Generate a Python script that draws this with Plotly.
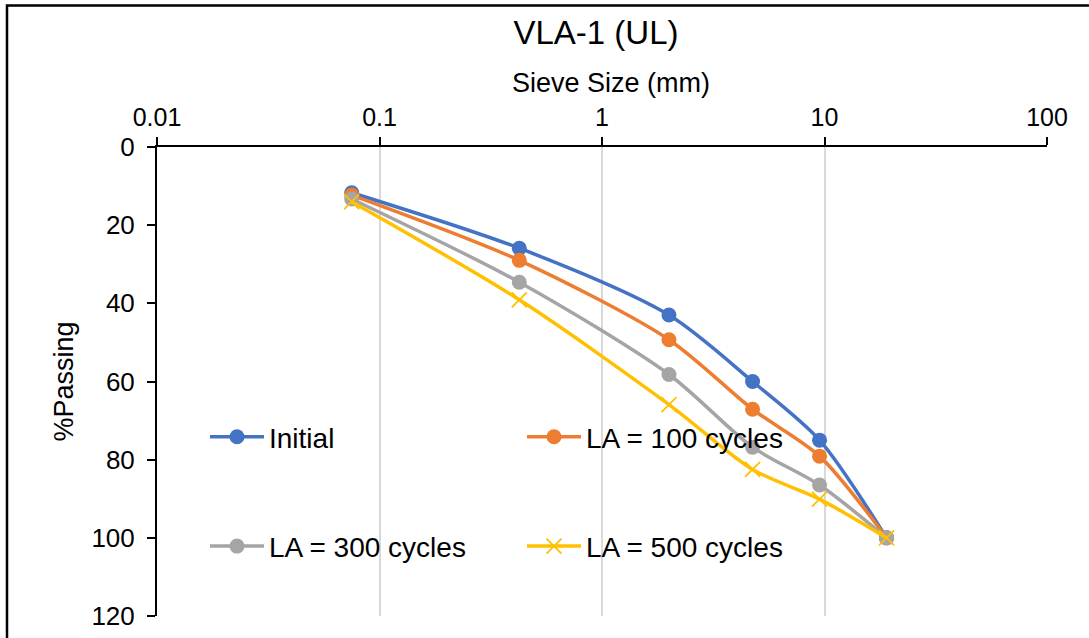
import plotly.graph_objects as go

# Sieve sizes (mm) and percent passing for each abrasion state
sieve_mm = [0.075, 0.425, 2.0, 4.75, 9.5, 19.0]
initial = [11.7, 25.9, 43.0, 60.0, 75.0, 100.0]
la_100 = [12.3, 29.0, 49.3, 67.1, 79.1, 100.0]
la_300 = [13.3, 34.6, 58.2, 76.8, 86.5, 100.0]
la_500 = [14.0, 39.1, 65.9, 82.5, 90.1, 100.0]

series_names = ["Initial", "LA = 100 cycles", "LA = 300 cycles", "LA = 500 cycles"]
x_ticks = [0.01, 0.1, 1, 10, 100]
x_tick_labels = ["0.01", "0.1", "1", "10", "100"]
y_ticks = [0, 20, 40, 60, 80, 100, 120]

W, H = 1089, 638
L, R, T, B = 157, 42, 147, 22
FONT = "Arial, Liberation Sans, sans-serif"

colors = ["#4472C4", "#ED7D31", "#A5A5A5", "#FFC000"]
values = [initial, la_100, la_300, la_500]
legends = ["legend", "legend2", "legend", "legend2"]

fig = go.Figure()
for i, (name, ys) in enumerate(zip(series_names, values)):
    if i < 3:
        marker = dict(symbol="circle", size=15, color=colors[i])
    else:
        marker = dict(symbol="x-thin", size=15, color=colors[i],
                      line=dict(color=colors[i], width=1.8))
    fig.add_trace(go.Scatter(
        x=sieve_mm, y=ys, name=name, mode="lines+markers",
        line=dict(color=colors[i], width=3.5, shape="spline", smoothing=0.8),
        marker=marker, legend=legends[i], legendgroup=name,
    ))


def px_to_paper_x(px):
    return (px - L) / (W - L - R)


def px_to_paper_y(py):
    return (H - B - py) / (H - T - B)


legend_common = dict(
    font=dict(family=FONT, size=28, color="#000000"),
    bgcolor="rgba(0,0,0,0)", itemwidth=54, tracegroupgap=70,
    orientation="v", xanchor="left", yanchor="top",
)

fig.update_layout(
    width=W, height=H,
    margin=dict(l=L, r=R, t=T, b=B, autoexpand=False),
    paper_bgcolor="white", plot_bgcolor="white",
    font=dict(family=FONT, size=24, color="#000000"),
    title=dict(text="VLA-1 (UL)", x=596 / W,
               xanchor="center", y=1 - 32 / H, yanchor="middle",
               font=dict(family=FONT, size=33, color="#000000")),
    xaxis=dict(
        type="log", side="top", range=[-2, 2],
        tickvals=x_ticks, ticktext=x_tick_labels,
        ticks="outside", ticklen=8, tickwidth=1.5, tickcolor="#000000",
        showline=True, linecolor="#000000", linewidth=2,
        showgrid=True, gridcolor="#D9D9D9", gridwidth=1.5,
        zeroline=False,
        tickfont=dict(family=FONT, size=25),
        ticklabelstandoff=1,
    ),
    yaxis=dict(
        range=[120, 0], tickvals=y_ticks,
        ticks="outside", ticklen=8, tickwidth=1.5, tickcolor="#000000",
        showline=True, linecolor="#000000", linewidth=2,
        showgrid=False, zeroline=False,
        tickfont=dict(family=FONT, size=26),
        ticklabelstandoff=7,
        title=dict(text="%Passing", standoff=10,
                   font=dict(family=FONT, size=27)),
    ),
    annotations=[dict(
        text="Sieve Size (mm)", xref="paper", yref="paper",
        x=px_to_paper_x(611), y=px_to_paper_y(83),
        xanchor="center", yanchor="middle", showarrow=False,
        font=dict(family=FONT, size=27, color="#000000"),
    )],
    legend=dict(x=px_to_paper_x(205), y=px_to_paper_y(412), **legend_common),
    legend2=dict(x=px_to_paper_x(522), y=px_to_paper_y(412), **legend_common),
    shapes=[dict(
        type="rect", xref="paper", yref="paper",
        x0=px_to_paper_x(7), x1=px_to_paper_x(1095),
        y0=px_to_paper_y(650), y1=px_to_paper_y(5.5),
        line=dict(color="#000000", width=2.5), layer="below",
    )],
)

fig.write_html("out.html")
